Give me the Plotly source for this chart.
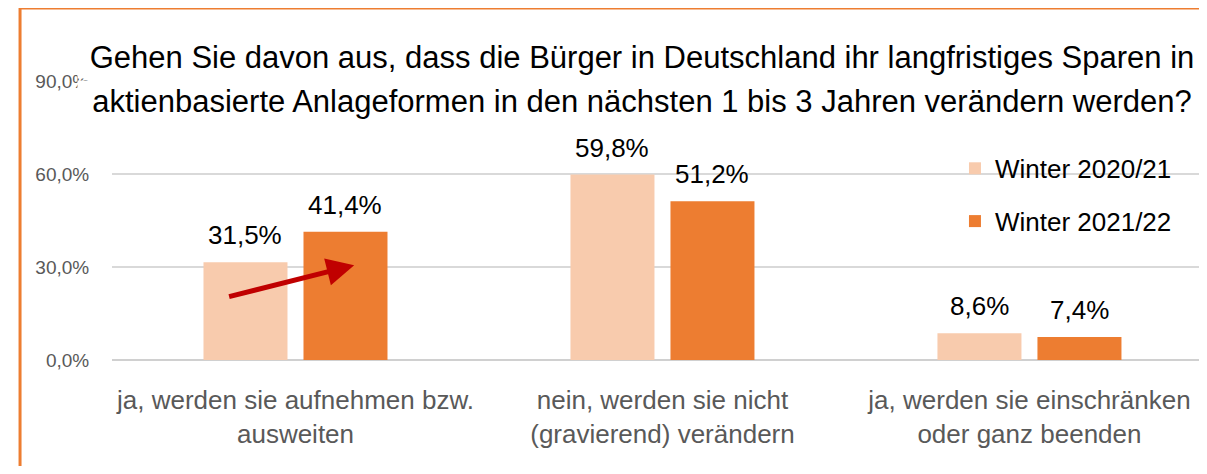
import plotly.graph_objects as go

categories = [
    "ja, werden sie aufnehmen bzw.<br>ausweiten",
    "nein, werden sie nicht<br>(gravierend) verändern",
    "ja, werden sie einschränken<br>oder ganz beenden",
]
series_names = ["Winter 2020/21", "Winter 2021/22"]
winter_2020_21 = [31.5, 59.8, 8.6]
winter_2021_22 = [41.4, 51.2, 7.4]
y_ticks = [0, 30, 60, 90]

title_lines = [
    "Gehen Sie davon aus, dass die Bürger in Deutschland ihr langfristiges Sparen in",
    "aktienbasierte Anlageformen in den nächsten 1 bis 3 Jahren verändern werden?",
]

LIGHT = "#F8CBAD"
DARK = "#ED7D31"
FONT = "Liberation Sans, Arial, sans-serif"


def pct(v):
    return f"{v:.1f}%".replace(".", ",")


fig = go.Figure()
series = [(series_names[0], winter_2020_21, LIGHT, -50),
          (series_names[1], winter_2021_22, DARK, 50)]
for name, vals, col, shift in series:
    fig.add_trace(go.Bar(
        x=categories, y=vals, name=name, legendgroup=name,
        marker=dict(color=col, line=dict(width=0)),
    ))
    # value labels, placed a bit higher above the bars than plotly's default
    for cat, v in zip(categories, vals):
        fig.add_annotation(
            x=cat, y=v, text=pct(v), showarrow=False, xshift=shift, yshift=27,
            yanchor="middle", font=dict(size=26, color="#000000", family=FONT),
        )

# title as two white-backed lines (covers the top gridline like the original)
for i, line in enumerate(title_lines):
    fig.add_annotation(
        text=line, xref="paper", yref="paper", x=0.488, y=[1.086, 0.925][i],
        xanchor="center", yanchor="middle", showarrow=False, width=1122,
        bgcolor="white", borderpad=3,
        font=dict(size=31, color="#000000", family=FONT),
    )

# red trend arrow on the first group
fig.add_annotation(
    x=0.16, y=30.6, ax=-0.185, ay=20.3, xref="x", yref="y", axref="x", ayref="y",
    text="", showarrow=True, arrowhead=2, arrowsize=1.1, arrowwidth=5,
    arrowcolor="#C00000",
)

# orange frame: only the left and top edges are in view
frame = dict(color=DARK, width=3)
fig.add_shape(type="line", xref="paper", yref="paper",
              x0=-0.0846, x1=-0.0846, y0=-0.5, y1=1.262, line=frame)
fig.add_shape(type="line", xref="paper", yref="paper",
              x0=-0.0846, x1=1.1, y0=1.262, y1=1.262, line=frame)

fig.update_layout(
    width=1191, height=458,
    margin=dict(l=104, r=0, t=73, b=106, autoexpand=False),
    paper_bgcolor="white", plot_bgcolor="white",
    barmode="group", bargap=0.455, bargroupgap=0.16,
    font=dict(family=FONT),
    showlegend=True,
    legend=dict(x=0.7755, y=0.771, xanchor="left", yanchor="top",
                font=dict(size=26, color="#000000", family=FONT),
                tracegroupgap=16, traceorder="grouped",
                bgcolor="rgba(0,0,0,0)"),
    xaxis=dict(range=[-0.5, 2.462], showgrid=False, showline=False,
               automargin=False, ticks="outside", ticklen=17,
               tickcolor="rgba(0,0,0,0)",
               tickfont=dict(size=26, color="#595959", family=FONT)),
    yaxis=dict(range=[0, 90], tickvals=y_ticks, ticktext=[pct(v) for v in y_ticks],
               showgrid=True, gridcolor="#D9D9D9", gridwidth=1.5,
               zeroline=True, zerolinecolor="#D0D0D0", zerolinewidth=1.5,
               showline=False, automargin=False, ticks="outside", ticklen=18,
               tickcolor="rgba(0,0,0,0)",
               tickfont=dict(size=19, color="#595959", family=FONT)),
)

fig.write_html("out.html")
